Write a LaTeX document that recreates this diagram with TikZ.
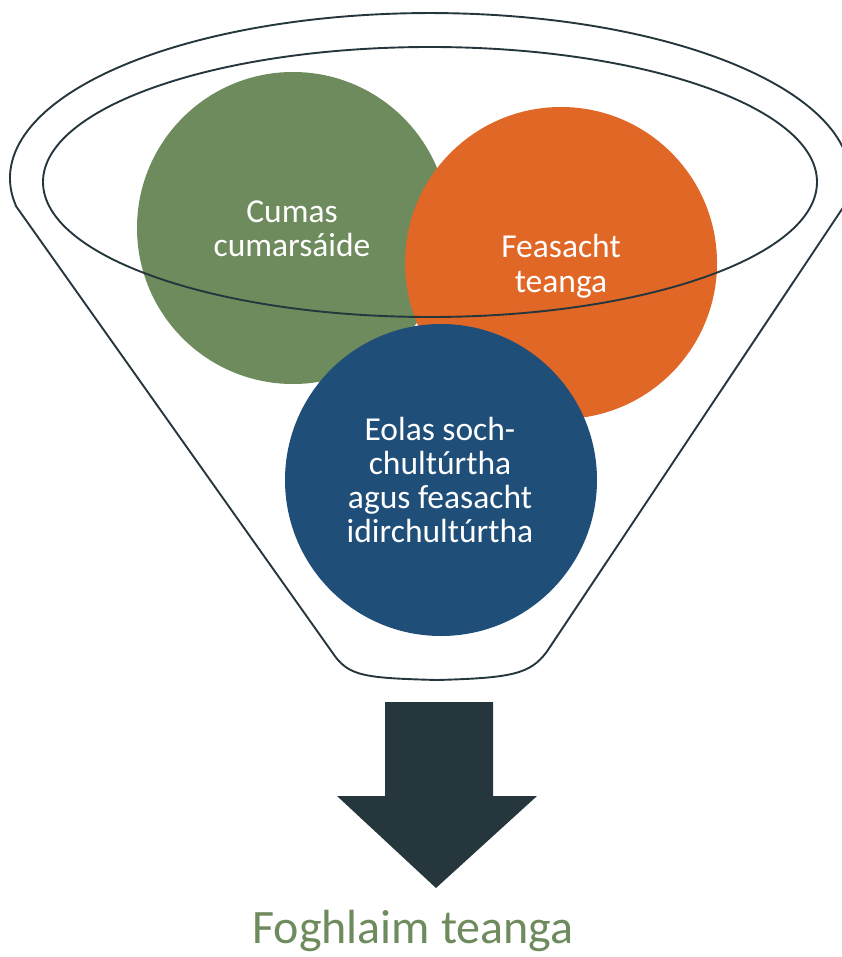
\documentclass[tikz,border=0pt]{standalone}
\usepackage{fontspec}
\setmainfont{Carlito}
\definecolor{fgreen}{HTML}{6E8B5E}
\definecolor{forange}{HTML}{E06726}
\definecolor{fblue}{HTML}{1F4E79}
\definecolor{fdark}{HTML}{26363D}
\begin{document}
\begin{tikzpicture}[x=1pt,y=1pt,
  funnelline/.style={draw=fdark, line width=1.9pt},
  bubble/.style={circle, minimum size=312pt, inner sep=0pt, draw=none},
  bubbletext/.style={anchor=base, text=white, font=\fontsize{33.5}{34}\selectfont, inner sep=0pt},
  resulttext/.style={anchor=base, text=fgreen, font=\fontsize{48}{50}\selectfont, inner sep=0pt}]
\useasboundingbox (0,0) rectangle (842,-957);
\clip (0,0) rectangle (842,-957);
% circles
\node[bubble, fill=fgreen] (green) at (293,-228) {};
\node[bubble, fill=forange] (orange) at (561,-263) {};
\node[bubble, fill=fblue] (blue) at (441,-480) {};
% circle texts
\node[bubbletext] (g1) at (292,-223) {Cumas};
\node[bubbletext] (g2) at (292,-257) {cumarsáide};
\node[bubbletext] (o1) at (561,-258) {Feasacht};
\node[bubbletext] (o2) at (561,-292) {teanga};
\node[bubbletext] (b1) at (440,-440) {Eolas soch-};
\node[bubbletext] (b2) at (440,-474) {chultúrtha};
\node[bubbletext] (b3) at (440,-508) {agus feasacht};
\node[bubbletext] (b4) at (440,-542) {idirchultúrtha};
% funnel
\draw[funnelline] (430,-182) ellipse [x radius=387pt, y radius=135pt];
\draw[funnelline] (16.4,-206.7) -- (332,-652)
  .. controls (348,-676) and (362,-678) .. (437,-680)
  .. controls (512,-678) and (530,-674) .. (546.6,-652)
  -- (843.6,-206.7) arc[start angle=-10, end angle=190, x radius=420pt, y radius=165pt];
% arrow
\fill[fdark] (385,-702) -- (493,-702) -- (493,-796) -- (537,-796) -- (436,-888) -- (337,-796) -- (385,-796) -- cycle;
\node[resulttext] (result) at (413,-943) {Foghlaim teanga};
\end{tikzpicture}
\end{document}
